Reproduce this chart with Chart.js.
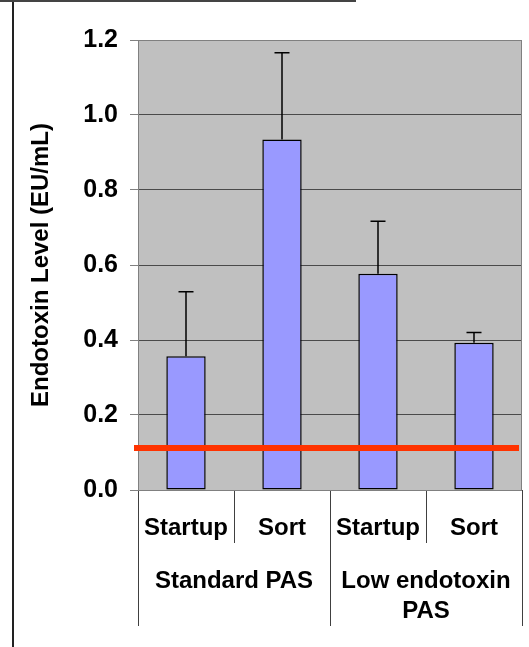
<!DOCTYPE html>
<html>
<head>
<meta charset="utf-8">
<script src="https://cdn.jsdelivr.net/npm/chart.js@4.4.1/dist/chart.umd.min.js"></script>
<style>
    body { margin: 0; background: #fff; }
    #wrap { position: relative; width: 529px; height: 647px; overflow: hidden; }
    #wrap canvas { position: absolute; left: 0; top: 0; }
    .frameLeft { position: absolute; left: 12px; top: 0; width: 2px; height: 647px; background: #222; }
    .frameTop { position: absolute; left: 0; top: 0; width: 356px; height: 2px; background: #444; }
</style>
</head>
<body>
<div id="wrap">
    <canvas id="myChart" width="529" height="647"></canvas>
    <div class="frameLeft"></div>
    <div class="frameTop"></div>
</div>
<script>
// du lieu doc tu hinh
const subLabels = ['Startup', 'Sort', 'Startup', 'Sort'];
const groupLabels = ['Standard PAS', ['Low endotoxin', 'PAS']];
const means = [0.357, 0.935, 0.577, 0.393];
const errors = [0.172, 0.231, 0.140, 0.027];
const limitValue = 0.112;
const yTickValues = [0, 0.2, 0.4, 0.6, 0.8, 1.0, 1.2];

const FONT = 'Arial, "Liberation Sans", sans-serif';

// nen xam cua vung ve
const plotBg = {
    id: 'plotBg',
    beforeDraw(chart) {
        const { ctx, chartArea: a } = chart;
        ctx.save();
        ctx.fillStyle = '#c0c0c0';
        ctx.fillRect(a.left, a.top, a.right - a.left, a.bottom - a.top);
        ctx.restore();
    },
    beforeDatasetsDraw(chart) {
        const { ctx, chartArea: a } = chart;
        ctx.save();
        ctx.strokeStyle = '#808080';
        ctx.lineWidth = 1;
        ctx.strokeRect(a.left + 0.5, a.top + 0.5, a.right - a.left - 1, a.bottom - a.top);
        ctx.restore();
    }
};

// error bar + duong gioi han do
const extras = {
    id: 'extras',
    afterDatasetsDraw(chart) {
        const { ctx, chartArea: a } = chart;
        const yScale = chart.scales.y;
        const meta = chart.getDatasetMeta(0);
        ctx.save();
        ctx.strokeStyle = '#000';
        ctx.lineWidth = 1.5;
        meta.data.forEach((bar, i) => {
            const yTop = yScale.getPixelForValue(means[i] + errors[i]);
            ctx.beginPath();
            ctx.moveTo(bar.x, bar.y);
            ctx.lineTo(bar.x, yTop);
            ctx.moveTo(bar.x - 7.5, yTop);
            ctx.lineTo(bar.x + 7.5, yTop);
            ctx.stroke();
        });
        const yLim = yScale.getPixelForValue(limitValue);
        ctx.strokeStyle = '#ff3300';
        ctx.lineWidth = 6;
        ctx.beginPath();
        ctx.moveTo(a.left - 4, yLim);
        ctx.lineTo(a.right - 3, yLim);
        ctx.stroke();
        ctx.restore();
    }
};

document.addEventListener('DOMContentLoaded', function () {
    const canvas = document.getElementById('myChart');
    const ctx = canvas.getContext('2d');

    new Chart(ctx, {
        type: 'bar',
        data: {
            labels: subLabels,
            datasets: [{
                data: means,
                backgroundColor: '#9999ff',
                borderColor: '#000',
                borderWidth: 1.5,
                borderSkipped: false,
                barPercentage: 0.41,
                categoryPercentage: 1.0
            }]
        },
        options: {
            responsive: false,
            animation: false,
            layout: { padding: { top: 40, right: 7, left: 0, bottom: 0 } },
            scales: {
                x: {
                    weight: 0,
                    offset: true,
                    grid: { offset: true, drawOnChartArea: false, tickLength: 53, color: '#404040', lineWidth: 1 },
                    border: { color: '#404040' },
                    ticks: {
                        color: '#000',
                        font: { family: FONT, size: 24, weight: 'bold' },
                        padding: -29,
                        maxRotation: 0,
                        autoSkip: false
                    },
                    afterFit: s => { s.height = 53; }
                },
                x2: {
                    type: 'category',
                    labels: groupLabels,
                    position: 'bottom',
                    weight: 1,
                    offset: true,
                    grid: { offset: true, drawOnChartArea: false, tickLength: 83, color: '#404040', lineWidth: 1 },
                    border: { display: false },
                    ticks: {
                        color: '#000',
                        font: { family: FONT, size: 24, weight: 'bold', lineHeight: 1.22 },
                        padding: -59,
                        maxRotation: 0,
                        autoSkip: false
                    },
                    afterFit: s => { s.height = 104; }
                },
                y: {
                    min: 0,
                    max: 1.2,
                    afterBuildTicks: s => { s.ticks = yTickValues.map(v => ({ value: v })); },
                    ticks: {
                        color: '#000',
                        font: { family: FONT, size: 25, weight: 'bold' },
                        padding: 12,
                        callback: v => Number(v).toFixed(1)
                    },
                    grid: { color: '#4a4a4a', tickColor: '#808080', tickLength: 8, lineWidth: 1 },
                    border: { color: '#808080' },
                    title: {
                        display: true,
                        text: 'Endotoxin Level (EU/mL)',
                        color: '#000',
                        font: { family: FONT, size: 24, weight: 'bold' },
                        padding: { top: 27, bottom: 0 }
                    },
                    afterFit: s => { s.width = 138; }
                }
            },
            plugins: {
                legend: { display: false },
                tooltip: { enabled: false }
            }
        },
        plugins: [plotBg, extras]
    });
});
</script>
</body>
</html>
